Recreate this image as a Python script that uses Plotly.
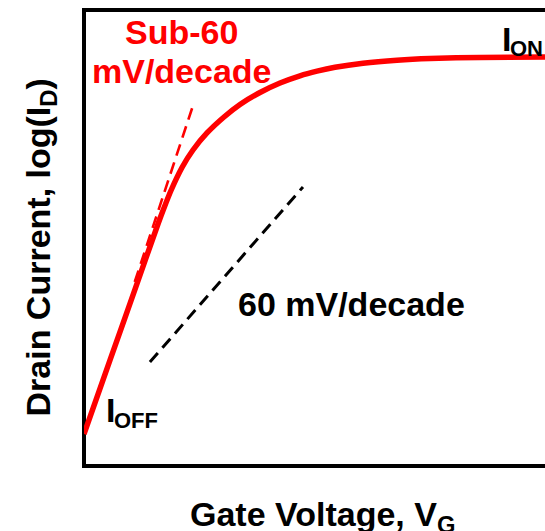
import plotly.graph_objects as go

# Transfer characteristic: gate voltage vs log drain current (arbitrary units)
vg = [0, 5.64, 11.06, 16.05, 17.35, 18.87, 21.26, 23.64, 26.68, 30.37, 33.84,
      38.18, 42.52, 46.85, 50.54, 54.45, 60.52, 67.90, 75.05, 85.90, 100]
log_id = [7.02, 23.20, 38.75, 53.07, 56.58, 60.42, 65.46, 69.30, 73.03, 76.54, 79.28,
          81.91, 83.99, 85.57, 86.58, 87.43, 88.33, 88.99, 89.36, 89.61, 89.69]

# Slope guides: steep (sub-60) tangent and the 60 mV/decade limit
sub60_vg = [11.0, 23.54]
sub60_log = [40.35, 78.73]
lim60_vg = [14.3, 47.5]
lim60_log = [22.8, 61.2]

W, H = 545, 531
L, R, T, B = 84, 0, 10, 65
FONT = "Liberation Sans, Arial, sans-serif"


def px(x):
    return (x - L) / (W - L - R)


def py(y):
    return (H - B - y) / (H - B - T)


fig = go.Figure()
fig.add_trace(go.Scatter(
    x=sub60_vg, y=sub60_log, mode="lines",
    line=dict(color="#ff0000", width=2.6, dash="12px,7px"),
    hoverinfo="skip", showlegend=False,
))
fig.add_trace(go.Scatter(
    x=lim60_vg, y=lim60_log, mode="lines",
    line=dict(color="#000000", width=3, dash="12px,7px"),
    hoverinfo="skip", showlegend=False,
))
fig.add_trace(go.Scatter(
    x=vg, y=log_id, mode="lines",
    line=dict(color="#ff0000", width=5.5, shape="spline", smoothing=0.7),
    hoverinfo="skip", showlegend=False,
))

# Frame: left, bottom and top edges
frame = dict(type="line", xref="paper", yref="paper", layer="below",
             line=dict(color="black", width=4))
fig.add_shape(x0=0, x1=0, y0=py(468), y1=py(8), **frame)
fig.add_shape(x0=px(82), x1=1.05, y0=0, y1=0, **frame)
fig.add_shape(x0=px(82), x1=1.05, y0=1, y1=1, **frame)


def label(text, x, y, size, color="black", xanchor="center", angle=0):
    fig.add_annotation(
        text=text, x=px(x), y=py(y), xref="paper", yref="paper",
        xanchor=xanchor, yanchor="middle", showarrow=False, textangle=angle,
        font=dict(family=FONT, size=size, color=color),
    )


label("<b>Sub-60</b>", 181, 31.5, 34, "#ff0000")
label("<b>mV/decade</b>", 182, 71, 34, "#ff0000")
label("<b>60 mV/decade</b>", 351, 303.5, 34)
label("<b>I</b>", 500, 39.5, 34, xanchor="left")
label("<b>ON</b>", 508, 49, 22, xanchor="left")
label("<b>I</b>", 104, 410, 34, xanchor="left")
label("<b>OFF</b>", 112, 420, 22, xanchor="left")
label("<b>Gate Voltage, V<sub>G</sub></b>", 322, 516.5, 34)
label("<b>Drain Current, log(I<sub>D</sub>)</b>", 40, 247.5, 34, angle=-90)

fig.update_layout(
    width=W, height=H,
    margin=dict(l=L, r=R, t=T, b=B, pad=0),
    paper_bgcolor="white", plot_bgcolor="white",
    xaxis=dict(range=[0, 100], showgrid=False, zeroline=False,
               showticklabels=False, ticks="", showline=False),
    yaxis=dict(range=[0, 100], showgrid=False, zeroline=False,
               showticklabels=False, ticks="", showline=False),
)

fig.write_html("out.html")
